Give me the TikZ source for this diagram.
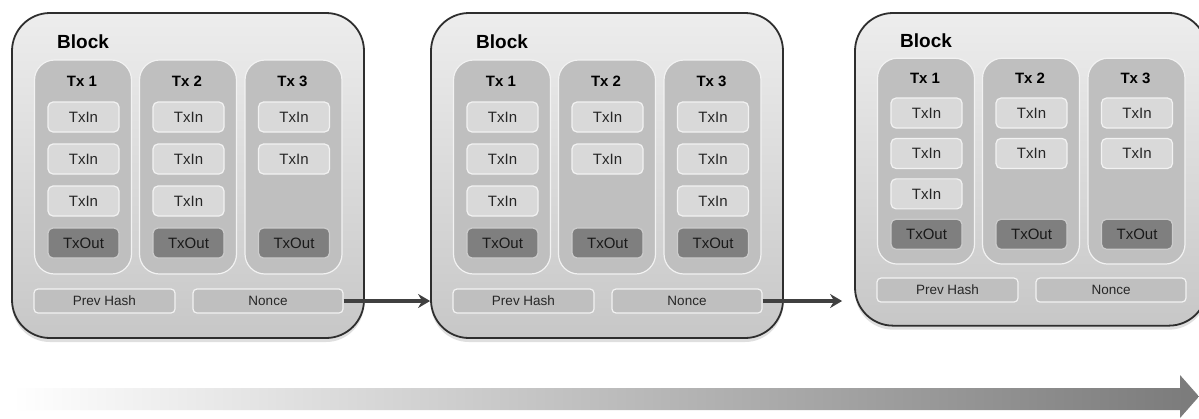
\documentclass[tikz,border=0pt]{standalone}
\usepackage{fontspec}
\setmainfont{Liberation Sans}
\usetikzlibrary{arrows.meta,shadows,calc}
\definecolor{blkborder}{HTML}{2E2E2E}
\definecolor{colfill}{HTML}{BFBFBF}
\definecolor{inbox}{HTML}{D9D9D9}
\definecolor{outbox}{HTML}{7F7F7F}
\definecolor{lightedge}{HTML}{F2F2F2}
\definecolor{txtdark}{HTML}{262626}
\definecolor{arrowgray}{HTML}{404040}
\tikzset{
  blockbox/.style={draw=blkborder, line width=1.8pt, rounded corners=38pt,
    top color=black!7, bottom color=black!22, minimum width=352pt,
    drop shadow={shadow xshift=0pt, shadow yshift=-4pt, opacity=0.25}},
  blocktitle/.style={font=\fontsize{19}{21}\selectfont\bfseries, inner sep=0pt},
  txcol/.style={draw=lightedge, line width=1.2pt, fill=colfill, rounded corners=20pt,
    minimum width=97pt},
  txtitle/.style={font=\fontsize{15}{17}\selectfont\bfseries, inner sep=0pt},
  txinbox/.style={draw=lightedge, line width=1.2pt, fill=inbox, rounded corners=5pt,
    minimum width=71pt, minimum height=30pt, inner sep=0pt, text=txtdark,
    font=\fontsize{15}{17}\selectfont},
  txoutbox/.style={txinbox, fill=outbox, draw=black!20, text=black!90},
  hashbox/.style={draw=lightedge, line width=1.2pt, fill=colfill, rounded corners=4pt,
    minimum height=24pt, inner sep=0pt, text=txtdark, font=\fontsize{13.5}{15}\selectfont},
  linkarrow/.style={draw=arrowgray, line width=3.4pt,
    -{Stealth[length=12pt,width=14pt,inset=4pt]}}
}
\newcommand\drawblk[6]{%
  \begin{scope}[shift={(#2,13)}, yscale=#3]
    \node[blockbox, minimum height=#3*325pt] (#1) at (176,162.5) {};
    \node[blocktitle, anchor=west] (#1t) at (45,29) {Block};
    \foreach \i/\cx/\n in {1/71/#4, 2/176/#5, 3/281.5/#6} {
      \node[txcol, minimum height=#3*214pt] (#1c\i) at (\cx,154) {};
      \node[txtitle] (#1h\i) at (\cx-1,68) {Tx \i};
      \foreach \j in {1,...,\n} {
        \node[txinbox] (#1c\i i\j) at (\cx+0.5,62+42*\j) {TxIn};
      }
      \node[txoutbox] (#1c\i o) at (\cx+0.5,230) {TxOut};
    }
    \node[hashbox, minimum width=141pt] (#1p) at (92.5,288) {Prev Hash};
    \node[hashbox, minimum width=150pt] (#1n) at (256,288) {Nonce};
  \end{scope}}
\begin{document}
\begin{tikzpicture}[x={(1pt,0)}, y={(0,-1pt)}]
  \useasboundingbox (0,0) rectangle (1199,418);
  \fill[white] (0,0) rectangle (1199,418);
  % timeline arrow
  \shade[left color=white, middle color=black!14, right color=black!52]
    (12,388) -- (1180,388) -- (1180,375) -- (1199,396.5) -- (1180,418) -- (1180,410) -- (12,410) -- cycle;
  \drawblk{A}{12}{1}{3}{3}{2}
  \drawblk{B}{431}{1}{3}{2}{3}
  \drawblk{C}{855}{0.962}{3}{2}{2}
  \draw[linkarrow] (An.east) -- (An.east -| B.west);
  \coordinate (Cin) at ([xshift=-12pt]C.west |- Bn.east);
  \draw[linkarrow] (Bn.east) -- (Cin);
\end{tikzpicture}
\end{document}
